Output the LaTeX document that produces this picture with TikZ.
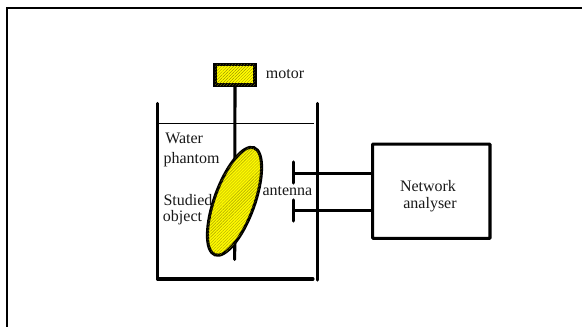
\documentclass[tikz,border=0pt]{standalone}
\usepackage{fontspec}
\setmainfont{Liberation Serif}
\usetikzlibrary{patterns.meta,shapes.geometric}
\definecolor{hatchyellow}{RGB}{255,250,0}
\definecolor{hatchdark}{RGB}{130,125,0}
\tikzset{
 heavy/.style={line width=2.3pt,line cap=round,line join=round},
 frameline/.style={line width=1.5pt},
 thinline/.style={line width=0.75pt},
 hatched/.style={draw=black,line width=2.3pt,fill=hatchyellow,
   postaction={pattern={Lines[angle=45,distance=1.6pt,line width=0.2pt]},pattern color=hatchdark}},
 lbl/.style={inner sep=0pt,font=\fontsize{12pt}{13pt}\selectfont,text=black!90},
}
\begin{document}
\begin{tikzpicture}[x=0.75pt,y=-0.75pt]
\useasboundingbox (0,0) rectangle (582,327);
\coordinate (fa) at (6.5,327);
\coordinate (fb) at (6.5,8);
\coordinate (fc) at (582,8);
\draw[frameline] (fa) -- (fb) -- (fc);
% tank
\coordinate (t1) at (157.3,103.5);
\coordinate (t2) at (157.3,279);
\coordinate (t3) at (313,279);
\coordinate (t4) at (317.3,103.5);
\coordinate (t5) at (317.3,280);
\draw[heavy] (t1) -- (t2) -- (t3);
\draw[heavy] (t4) -- (t5);
\coordinate (w1) at (159,123.5);
\coordinate (w2) at (313.5,123.5);
\draw[thinline] (w1) -- (w2);
% labels under the object
\node[lbl,anchor=base west] (water) at (165,144) {Water};
\node[lbl,anchor=base west] (phantom) at (163.3,163.5) {phantom};
\node[lbl,anchor=base west] (studied) at (163.3,206) {Studied};
\node[lbl,anchor=base west] (objectlbl) at (162.7,221.7) {object};
% motor and shaft
\node[hatched,rectangle,inner sep=0pt,minimum width=30pt,minimum height=15.5pt] (motor) at (235,74.7) {};
\coordinate (shaftend) at (234.7,259.5);
\draw[heavy] (motor.south) -- (shaftend);
% object
\node[hatched,ellipse,inner sep=0pt,rotate=70,minimum width=85.5pt,minimum height=30pt] (obj) at (234.5,201.3) {};
\node[lbl,anchor=base west] (mlbl) at (265.7,79) {motor};
\node[lbl,anchor=base west] (antlbl) at (262.3,195.7) {antenna};
% analyser
\node[draw=black,line width=2.3pt,rounded corners=0.5pt,rectangle,inner sep=0pt,minimum width=88pt,minimum height=70.7pt] (net) at (431.3,191.2) {};
\node[lbl,anchor=base] (netl) at (428,191.7) {Network};
\node[lbl,anchor=base] (anal) at (430,209) {analyser};
% antennas
\coordinate (a1t) at (293.3,162);
\coordinate (a1b) at (293.3,183);
\coordinate (a2t) at (293.3,200);
\coordinate (a2b) at (293.3,221);
\coordinate (a1) at (293.3,173.3);
\coordinate (a2) at (293.3,210.7);
\draw[heavy] (a1t) -- (a1b);
\draw[heavy] (a2t) -- (a2b);
\draw[heavy,line cap=butt] (a1) -- (a1 -| net.west);
\draw[heavy,line cap=butt] (a2) -- (a2 -| net.west);
\end{tikzpicture}
\end{document}
